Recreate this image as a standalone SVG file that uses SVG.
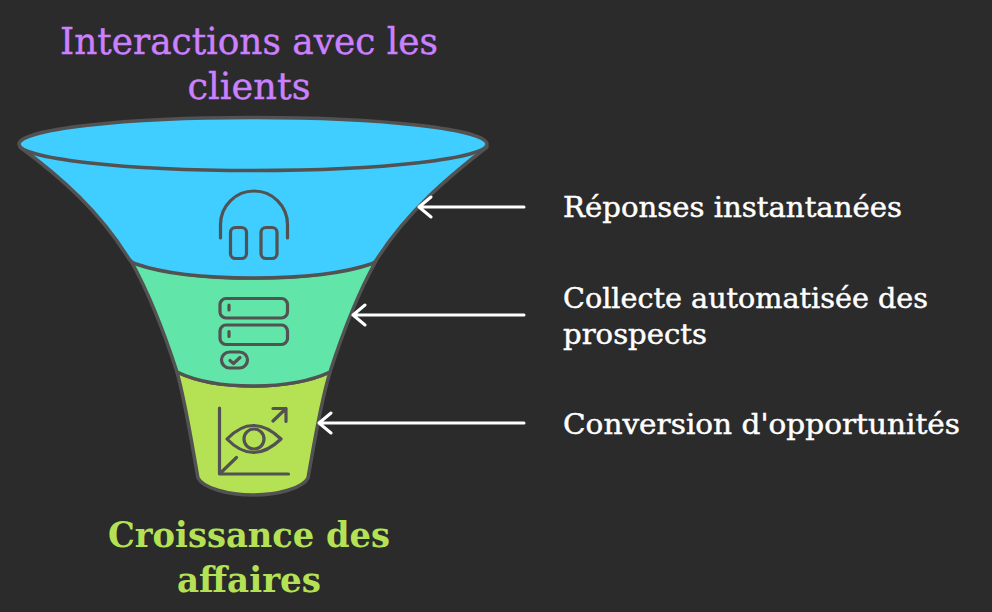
<svg xmlns="http://www.w3.org/2000/svg" width="992" height="612" viewBox="0 0 992 612">
<style>
text{font-family:"DejaVu Serif","Liberation Serif",serif}
.l{font-size:27px;fill:#fff;stroke:#fff;stroke-width:.45}
.t{font-size:38px;fill:#cb80ff;stroke:#cb80ff;stroke-width:.4;text-anchor:middle}
.b{font-size:36px;font-weight:700;fill:#b5e255;text-anchor:middle}
.s{stroke:#525252;stroke-width:3.5;stroke-linejoin:round}
.i{fill:none;stroke:#525252;stroke-width:3.2;stroke-linecap:round;stroke-linejoin:round}
.a{fill:none;stroke:#fff;stroke-width:3;stroke-linecap:round;stroke-linejoin:round}
</style>
<rect width="992" height="612" fill="#2b2b2b"/>
<g id="band3">
<path class="s" fill="#b5e255" d="M177 372C186 405 192 445 198 478C203 488 228 495 253 495C278 495 303 488 308 478C314 445 320 405 330 372Q300 386 253 386Q206 386 177 372Z"/>
</g>
<g id="band2">
<path class="s" fill="#62e5a9" d="M131 261C150 295 165 335 177 372Q206 386 253 386Q300 386 330 372C342 335 357 295 376 261Q330 278 253 278Q176 278 131 261Z"/>
</g>
<g id="band1">
<path class="s" fill="#40cdff" d="M20 147C62 178 100 212 129 259Q132 263 136 264Q176 278 253 278Q330 278 371 264Q375 263 377 259C407 212 447 178 487 147Z"/>
<ellipse class="s" fill="#40cdff" cx="253" cy="144" rx="234" ry="26.500"/>
</g>
<g id="icon1">
<path class="i" d="M220.500 238V224.500A33.500 33.500 0 0 1 287.500 224.500V238"/>
<rect class="i" x="230.500" y="227.500" width="16" height="31" rx="5"/>
<rect class="i" x="261" y="227.500" width="16" height="31" rx="5"/>
</g>
<g id="icon2">
<rect class="i" x="220" y="298.500" width="67.500" height="19.500" rx="6"/>
<rect class="i" x="220" y="325" width="67.500" height="19.500" rx="6"/>
<rect class="i" x="221.500" y="352" width="26" height="16" rx="8"/>
<path class="i" d="M229 305V310M229 331.500V336.500M230 360.500L233.500 363.500L240 357.500"/>
</g>
<g id="icon3">
<path class="i" d="M219.500 408V474H288.500M220.500 473L236.500 457.500M273 408.500H286V421.500M286 408.500L273 421"/>
<path class="i" d="M227 439Q253 412 281 439Q253 466 227 439Z"/>
<circle class="i" cx="254" cy="439" r="10"/>
</g>
<g id="connectors">
<path class="a" d="M524 207H419M431 197L419 207L431 217"/>
<path class="a" d="M524 315H353M365 305L353 315L365 325"/>
<path class="a" d="M524 423H319M331 413L319 423L331 433"/>
</g>
<g id="labels">
<text class="t" x="249" y="54" textLength="378" lengthAdjust="spacingAndGlyphs">Interactions avec les</text>
<text class="t" x="249" y="99" textLength="123" lengthAdjust="spacingAndGlyphs">clients</text>
<text class="b" x="249" y="547" textLength="282" lengthAdjust="spacingAndGlyphs">Croissance des</text>
<text class="b" x="249" y="592" textLength="144" lengthAdjust="spacingAndGlyphs">affaires</text>
<text class="l" x="563" y="217" textLength="339" lengthAdjust="spacingAndGlyphs">Réponses instantanées</text>
<text class="l" x="563" y="308" textLength="365" lengthAdjust="spacingAndGlyphs">Collecte automatisée des</text>
<text class="l" x="563" y="344" textLength="144" lengthAdjust="spacingAndGlyphs">prospects</text>
<text class="l" x="563" y="434" textLength="397" lengthAdjust="spacingAndGlyphs">Conversion d'opportunités</text>
</g>
</svg>
